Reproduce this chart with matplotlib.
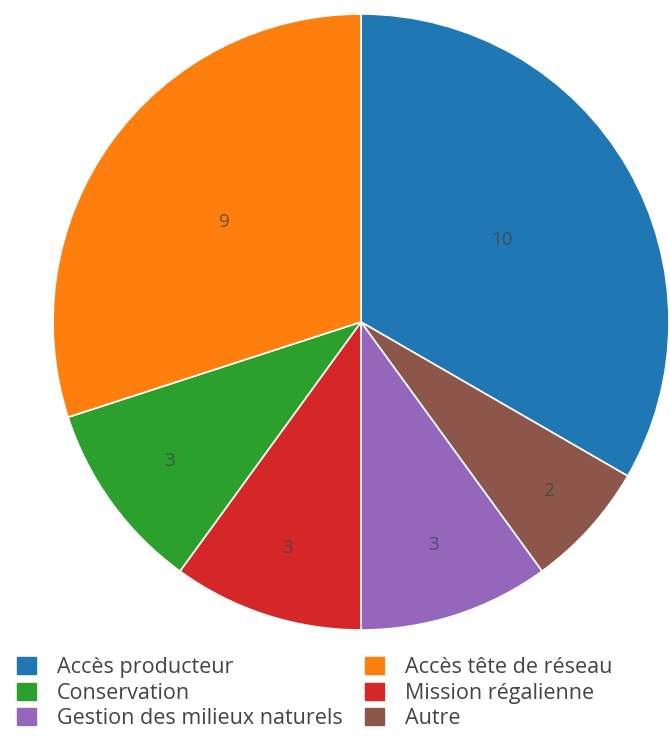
import matplotlib
matplotlib.use("Agg")
from matplotlib import pyplot as plt
from matplotlib.patches import Patch
import numpy as np

plt.rcParams['font.family'] = ['Open Sans', 'DejaVu Sans']

# data, in drawing order (clockwise from top)
labels = ["Accès producteur", "Autre", "Gestion des milieux naturels",
          "Mission régalienne", "Conservation", "Accès tête de réseau"]
values = [10, 2, 3, 3, 3, 9]
colors = ["#1f77b4", "#8c564b", "#9467bd", "#d62728", "#2ca02c", "#ff7f0e"]
# legend order (row by row, two columns)
legend_order = ["Accès producteur", "Accès tête de réseau", "Conservation",
                "Mission régalienne", "Gestion des milieux naturels", "Autre"]

# radial position of value labels, as fraction of radius
label_r = [0.53, 0.82, 0.76, 0.77, 0.77, 0.55]

fig = plt.figure(figsize=(6.7, 7.4), dpi=100)
ax = fig.add_axes([53 / 670, (740 - 322 - 308) / 740, 616 / 670, 616 / 740])

wedges, _ = ax.pie(values, colors=colors, startangle=90, counterclock=False,
                   wedgeprops=dict(linewidth=1.2, edgecolor="white"))
ax.set_xlim(-1, 1)
ax.set_ylim(-1, 1)
ax.set_aspect("equal")

for w, v, r in zip(wedges, values, label_r):
    ang = np.deg2rad((w.theta1 + w.theta2) / 2)
    ax.text(r * np.cos(ang), r * np.sin(ang), str(v), ha="center", va="center",
            fontsize=13.5, color="#444444", alpha=0.8)

# legend: matplotlib fills columns first, so reorder
col1 = legend_order[0::2]
col2 = legend_order[1::2]
handles = []
for name in col1 + col2:
    c = colors[labels.index(name)]
    handles.append(Patch(facecolor=c, edgecolor=c, label=name))

fig.legend(handles=handles, ncol=2, loc="upper left",
           bbox_to_anchor=(0 / 670, 1 - 640 / 740), frameon=False,
           fontsize=15.5, handlelength=0.85, handleheight=0.85,
           handletextpad=1.0, columnspacing=1.05, labelspacing=0.2,
           labelcolor="#444444", borderpad=0.3)

fig.savefig("out.png", dpi=100)
